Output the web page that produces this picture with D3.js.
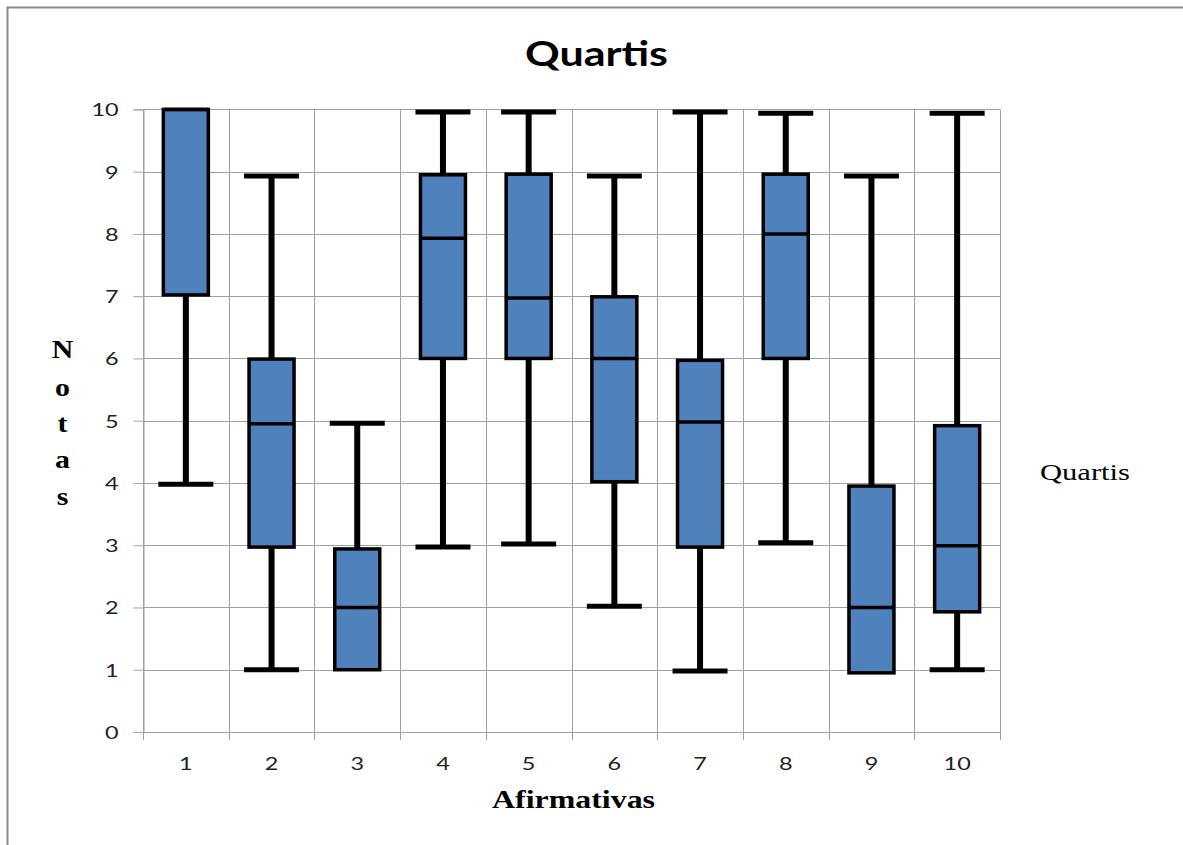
<!DOCTYPE html>
<html>
<head>
<meta charset="utf-8">
<script src="https://cdn.jsdelivr.net/npm/d3@7"></script>
<style>
  html, body { margin: 0; padding: 0; background: #fff; overflow: hidden; }
  svg { display: block; }
</style>
</head>
<body>
<svg id="chart" width="1183" height="845"></svg>
<script>
// Afirmativas (categories) and their quartile summaries (Notas)
const categories = ["1", "2", "3", "4", "5", "6", "7", "8", "9", "10"];
const minimo  = [3.98, 1.00, 1.00, 2.97, 3.02, 2.02, 0.98, 3.04, 0.95, 1.00];
const q1      = [7.02, 2.97, 1.00, 6.00, 6.00, 4.02, 2.97, 6.00, 0.95, 1.93];
const mediana = [10.0, 4.95, 2.00, 7.93, 6.97, 6.00, 4.98, 8.00, 2.00, 2.99];
const q3      = [10.0, 5.99, 2.94, 8.95, 8.96, 6.99, 5.97, 8.96, 3.95, 4.92];
const maximo  = [10.0, 8.93, 4.96, 9.96, 9.96, 8.93, 9.96, 9.94, 8.93, 9.94];
const yTicks  = [0, 1, 2, 3, 4, 5, 6, 7, 8, 9, 10];

const rows = categories.map((c, i) => ({
  cat: c, min: minimo[i], q1: q1[i], med: mediana[i], q3: q3[i], max: maximo[i]
}));

const svg = d3.select("#chart");
const gridColor = "#a0a0a0";
const boxFill = "#4f81bd";
const stretch = 1.3;

// outer frame (top and left edges inside the page)
svg.append("path")
  .attr("d", "M7.5,845 V7.5 H1183")
  .attr("fill", "none").attr("stroke", "#8a8a8a").attr("stroke-width", 2);

const plot = { left: 143, right: 1000, top: 109.4, bottom: 732 };

const x = d3.scaleBand().domain(categories).range([plot.left, plot.right]).padding(0);
const y = d3.scaleLinear().domain([0, 10]).range([plot.bottom, plot.top]);

// horizontal gridlines
svg.append("g")
  .selectAll("line").data(yTicks).join("line")
  .attr("x1", plot.left).attr("x2", plot.right)
  .attr("y1", d => Math.round(y(d)) + 0.5).attr("y2", d => Math.round(y(d)) + 0.5)
  .attr("stroke", gridColor).attr("stroke-width", 1);

// vertical gridlines at category boundaries, extending below as tick marks
const bounds = categories.map(c => x(c)).concat([plot.right]);
svg.append("g")
  .selectAll("line").data(bounds).join("line")
  .attr("x1", d => Math.round(d) + 0.5).attr("x2", d => Math.round(d) + 0.5)
  .attr("y1", y(10)).attr("y2", plot.bottom + 8)
  .attr("stroke", gridColor).attr("stroke-width", 1);

// y axis
const yAxis = svg.append("g")
  .attr("transform", `translate(${plot.left + 0.5},0)`)
  .call(d3.axisLeft(y).tickValues(yTicks).tickSize(10).tickFormat(d3.format("d")));
yAxis.select(".domain").attr("stroke", gridColor);
yAxis.selectAll(".tick line").attr("stroke", gridColor);
yAxis.selectAll(".tick text")
  .attr("x", -25 / stretch).attr("dy", "0.36em")
  .attr("transform", `scale(${stretch},1)`)
  .attr("font-family", "Lato, 'Open Sans', sans-serif").attr("font-size", 18)
  .attr("fill", "#222");

// x axis labels
const xAxis = svg.append("g")
  .attr("transform", `translate(0,${plot.bottom})`)
  .call(d3.axisBottom(x).tickSize(0));
xAxis.select(".domain").remove();
xAxis.selectAll(".tick text")
  .attr("y", 38).attr("dy", 0)
  .attr("transform", `scale(${stretch},1)`)
  .attr("font-family", "Lato, 'Open Sans', sans-serif").attr("font-size", 18)
  .attr("fill", "#222");

// boxes
const boxW = 45;
const capW = 55;
const g = svg.append("g");
rows.forEach(r => {
  const cx = x(r.cat) + x.bandwidth() / 2;
  const wg = g.append("g");
  // whiskers
  if (r.max > r.q3) {
    wg.append("line").attr("x1", cx).attr("x2", cx)
      .attr("y1", y(r.max)).attr("y2", y(r.q3))
      .attr("stroke", "#000").attr("stroke-width", 6);
    wg.append("line").attr("x1", cx - capW / 2).attr("x2", cx + capW / 2)
      .attr("y1", y(r.max)).attr("y2", y(r.max))
      .attr("stroke", "#000").attr("stroke-width", 5);
  }
  if (r.min < r.q1) {
    wg.append("line").attr("x1", cx).attr("x2", cx)
      .attr("y1", y(r.q1)).attr("y2", y(r.min))
      .attr("stroke", "#000").attr("stroke-width", 6);
    wg.append("line").attr("x1", cx - capW / 2).attr("x2", cx + capW / 2)
      .attr("y1", y(r.min)).attr("y2", y(r.min))
      .attr("stroke", "#000").attr("stroke-width", 5);
  }
  // box
  wg.append("rect")
    .attr("x", cx - boxW / 2).attr("width", boxW)
    .attr("y", y(r.q3)).attr("height", y(r.q1) - y(r.q3))
    .attr("fill", boxFill).attr("stroke", "#000").attr("stroke-width", 3.5);
  // median
  wg.append("line").attr("x1", cx - boxW / 2).attr("x2", cx + boxW / 2)
    .attr("y1", y(r.med)).attr("y2", y(r.med))
    .attr("stroke", "#000").attr("stroke-width", 3.5);
});

// title
svg.append("text")
  .attr("x", 596.5).attr("y", 66)
  .attr("text-anchor", "middle")
  .attr("font-family", "Lato, 'Open Sans', sans-serif").attr("font-weight", "bold")
  .attr("font-size", 34)
  .attr("textLength", 143).attr("lengthAdjust", "spacingAndGlyphs")
  .text("Quartis");

// x axis title
svg.append("text")
  .attr("x", 573.5).attr("y", 808)
  .attr("text-anchor", "middle")
  .attr("font-family", "'Liberation Serif', 'Times New Roman', serif").attr("font-weight", "bold")
  .attr("font-size", 25)
  .attr("textLength", 163).attr("lengthAdjust", "spacingAndGlyphs")
  .text("Afirmativas");

// y axis title, letters stacked vertically
const yTitle = "Notas".split("");
const letterBase = [358, 396, 432, 468, 505];
svg.append("g").selectAll("text").data(yTitle).join("text")
  .attr("transform", (d, i) => `translate(62.5,${letterBase[i]}) scale(1.15,1)`)
  .attr("text-anchor", "middle")
  .attr("font-family", "'Liberation Serif', 'Times New Roman', serif").attr("font-weight", "bold")
  .attr("font-size", 26)
  .text(d => d);

// legend
svg.append("text")
  .attr("x", 1040).attr("y", 480)
  .attr("font-family", "'Liberation Serif', 'Times New Roman', serif")
  .attr("font-size", 24)
  .attr("textLength", 90).attr("lengthAdjust", "spacingAndGlyphs")
  .text("Quartis");
</script>
</body>
</html>
